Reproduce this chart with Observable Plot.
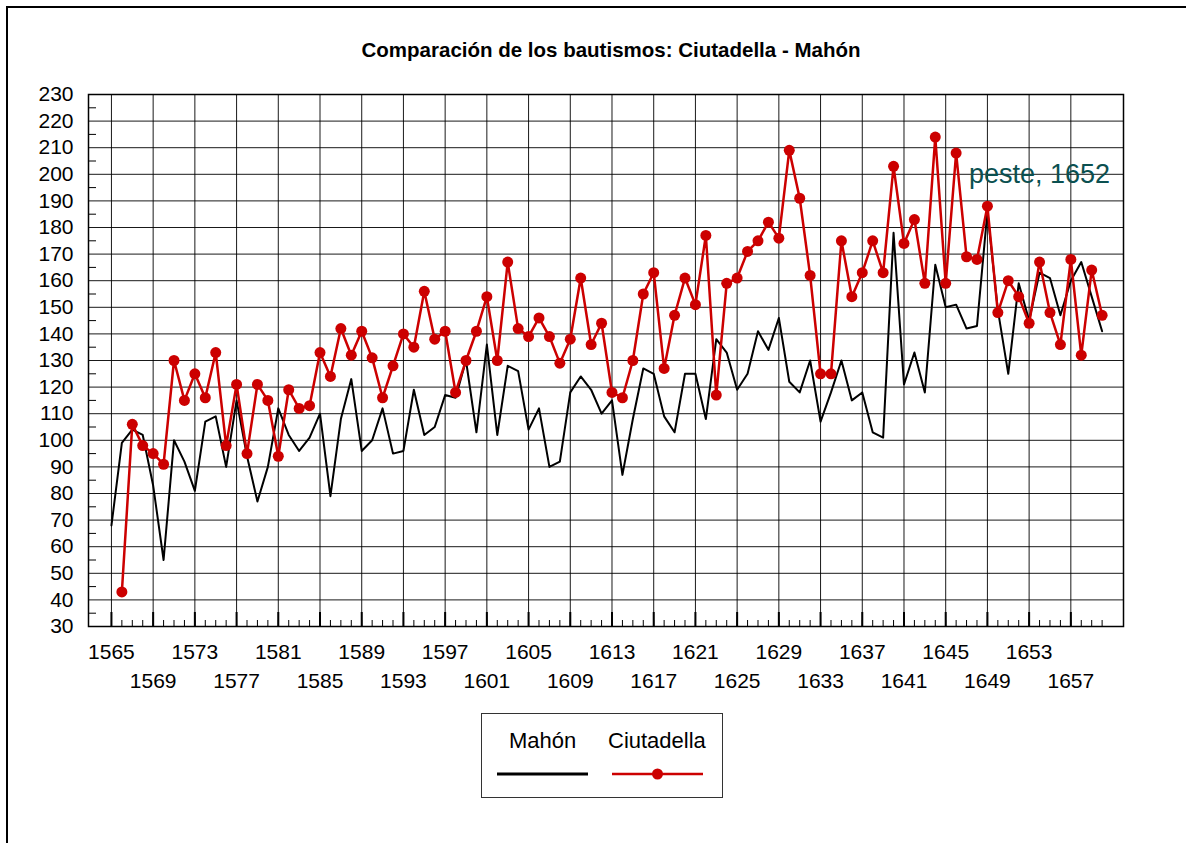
<!DOCTYPE html>
<html>
<head>
<meta charset="utf-8">
<script src="https://cdn.jsdelivr.net/npm/d3@7"></script>
<script src="https://cdn.jsdelivr.net/npm/@observablehq/plot@0.6"></script>
<style>
  html, body { margin: 0; padding: 0; background: #fff; }
  body { width: 1186px; height: 843px; overflow: hidden; font-family: "Liberation Sans", Arial, sans-serif; }
  #page { position: relative; width: 1186px; height: 843px; }
  #border { position: absolute; left: 6px; top: 6px; right: -10px; bottom: -10px; border-left: 2.6px solid #000; border-top: 2.6px solid #000; }
  #title { position: absolute; top: 38px; left: 611px; transform: translateX(-50%); white-space: nowrap; font-weight: bold; font-size: 20.5px; color: #000; }
  #chart { position: absolute; left: 0; top: 0; }
  #legend { position: absolute; left: 481px; top: 713px; width: 242px; height: 85px; border: 1.5px solid #333; box-sizing: border-box; }
  .lg-label { position: absolute; top: 14px; font-size: 22px; color: #000; white-space: nowrap; }
  .lg-swatch { position: absolute; top: 52px; }
</style>
</head>
<body>
<div id="page">
  <div id="border"></div>
  <div id="chart"></div>
  <div id="title"></div>
  <div id="legend"></div>
</div>
<script>
// ---- Data ----
const titleText = "Comparación de los bautismos: Ciutadella - Mahón";
const seriesNames = ["Mahón", "Ciutadella"];
const seriesColors = ["#000000", "#cc0000"];

const mahonStartYear = 1565;
const mahonValues = [
  68, 99, 104, 102, 83, 55, 100, 92, 81, 107,
  109, 90, 115, 94, 77, 90, 112, 102, 96, 101,
  110, 79, 108, 123, 96, 100, 112, 95, 96, 119,
  102, 105, 117, 116, 130, 103, 136, 102, 128, 126,
  104, 112, 90, 92, 118, 124, 119, 110, 115, 87,
  108, 127, 125, 109, 103, 125, 125, 108, 138, 133,
  119, 125, 141, 134, 146, 122, 118, 130, 107, 118,
  130, 115, 118, 103, 101, 178, 121, 133, 118, 166,
  150, 151, 142, 143, 186, 149, 125, 159, 145, 163,
  161, 147, 160, 167, 154, 141
];

const ciutadellaStartYear = 1566;
const ciutadellaValues = [
  43, 106, 98, 95, 91, 130, 115, 125, 116, 133,
  98, 121, 95, 121, 115, 94, 119, 112, 113, 133,
  124, 142, 132, 141, 131, 116, 128, 140, 135, 156,
  138, 141, 118, 130, 141, 154, 130, 167, 142, 139,
  146, 139, 129, 138, 161, 136, 144, 118, 116, 130,
  155, 163, 127, 147, 161, 151, 177, 117, 159, 161,
  171, 175, 182, 176, 209, 191, 162, 125, 125, 175,
  154, 163, 175, 163, 203, 174, 183, 159, 214, 159,
  208, 169, 168, 188, 148, 160, 154, 144, 167, 148,
  136, 168, 132, 164, 147
];

const xLabelsRow1 = [1565, 1573, 1581, 1589, 1597, 1605, 1613, 1621, 1629, 1637, 1645, 1653];
const xLabelsRow2 = [1569, 1577, 1585, 1593, 1601, 1609, 1617, 1625, 1633, 1641, 1649, 1657];
const yTicks = [30, 40, 50, 60, 70, 80, 90, 100, 110, 120, 130, 140, 150, 160, 170, 180, 190, 200, 210, 220, 230];
const yMinorTicks = [35, 45, 55, 65, 75, 85, 95, 105, 115, 125, 135, 145, 155, 165, 175, 185, 195, 205, 215, 225];
const yearTicks = d3.range(1565, 1661);

const annotation = [{year: 1654, value: 200, text: "peste, 1652"}];

// ---- Build tables ----
const mahon = mahonValues.map((v, i) => ({year: mahonStartYear + i, value: v}));
const ciutadella = ciutadellaValues.map((v, i) => ({year: ciutadellaStartYear + i, value: v}));
const majorYears = xLabelsRow1.concat(xLabelsRow2).sort((a, b) => a - b);

// ---- Layout ----
const W = 1186, H = 700;
const mTop = 94, mBottom = 74, mLeft = 88, mRight = 63;
const plotH = H - mTop - mBottom;
const plotW = W - mLeft - mRight;
const font = "'Liberation Sans', Arial, sans-serif";

const chart = Plot.plot({
  width: W,
  height: H,
  marginTop: mTop,
  marginBottom: mBottom,
  marginLeft: mLeft,
  marginRight: mRight,
  style: {fontFamily: font, color: "#000", background: "transparent", overflow: "visible"},
  x: {type: "linear", domain: [1562.8, 1662.05]},
  y: {type: "linear", domain: [30, 230]},
  marks: [
    Plot.ruleY(yTicks, {y: d => d, stroke: "#000", strokeWidth: 1, strokeOpacity: 0.9}),
    Plot.ruleX(majorYears, {x: d => d, stroke: "#000", strokeWidth: 1, strokeOpacity: 0.9}),
    Plot.tickX(yearTicks, {x: d => d, insetTop: plotH - 6, stroke: "#000", strokeWidth: 1}),
    Plot.tickX(majorYears, {x: d => d, insetTop: plotH - 14, stroke: "#000", strokeWidth: 2}),
    Plot.tickY(yMinorTicks, {y: d => d, insetRight: plotW - 8, stroke: "#000", strokeWidth: 1}),
    Plot.frame({stroke: "#000", strokeWidth: 1.5}),
    Plot.axisY(yTicks, {anchor: "left", tickSize: 0, tickPadding: 15, fontSize: 21, label: null, fill: "#000"}),
    Plot.axisX(xLabelsRow1, {anchor: "bottom", tickSize: 0, tickPadding: 18, fontSize: 21, label: null, fill: "#000", tickFormat: d => String(d)}),
    Plot.axisX(xLabelsRow2, {anchor: "bottom", tickSize: 0, tickPadding: 47, fontSize: 21, label: null, fill: "#000", tickFormat: d => String(d)}),
    Plot.line(mahon, {x: "year", y: "value", stroke: seriesColors[0], strokeWidth: 2}),
    Plot.line(ciutadella, {x: "year", y: "value", stroke: seriesColors[1], strokeWidth: 2.5}),
    Plot.dot(ciutadella, {x: "year", y: "value", r: 5.5, fill: seriesColors[1], stroke: "none"}),
    Plot.text(annotation, {x: "year", y: "value", text: "text", fill: "#0b5050", fontSize: 27, textAnchor: "middle"})
  ]
});
document.getElementById("chart").appendChild(chart);

// ---- Title ----
document.getElementById("title").textContent = titleText;

// ---- Legend ----
const legend = document.getElementById("legend");
const items = [
  {name: seriesNames[0], color: seriesColors[0], dot: false, labelLeft: 27, swLeft: 15},
  {name: seriesNames[1], color: seriesColors[1], dot: true, labelLeft: 126, swLeft: 130}
];
for (const it of items) {
  const lab = document.createElement("div");
  lab.className = "lg-label";
  lab.style.left = it.labelLeft + "px";
  lab.textContent = it.name;
  legend.appendChild(lab);
  const sw = d3.create("svg").attr("class", "lg-swatch").attr("width", 92).attr("height", 16)
    .style("left", it.swLeft + "px");
  sw.append("line").attr("x1", 0).attr("x2", 91).attr("y1", 8).attr("y2", 8)
    .attr("stroke", it.color).attr("stroke-width", it.dot ? 2.5 : 3);
  if (it.dot) sw.append("circle").attr("cx", 45.5).attr("cy", 8).attr("r", 5.5).attr("fill", it.color);
  legend.appendChild(sw.node());
}
</script>
</body>
</html>
